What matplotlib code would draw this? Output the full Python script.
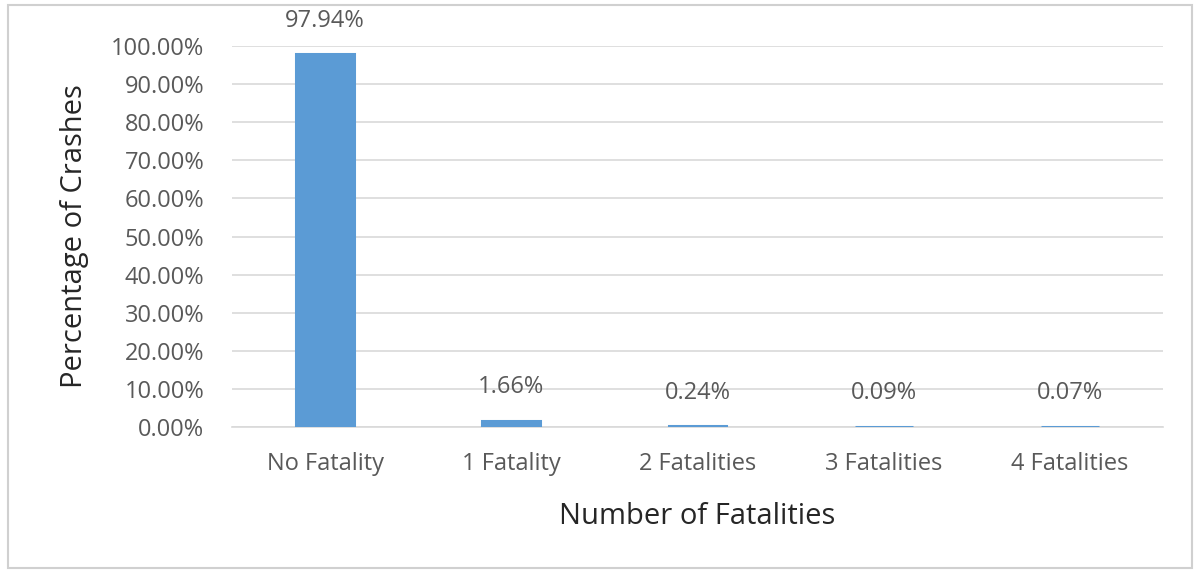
import matplotlib.pyplot as plt
from matplotlib.patches import Rectangle
from matplotlib.ticker import FuncFormatter

# data
categories = ["No Fatality", "1 Fatality", "2 Fatalities", "3 Fatalities", "4 Fatalities"]
percent = [97.94, 1.66, 0.24, 0.09, 0.07]
yticks = [0, 10, 20, 30, 40, 50, 60, 70, 80, 90, 100]

plt.rcParams['font.family'] = ['Open Sans', 'DejaVu Sans']
text_color = "#595959"
bar_color = "#5b9bd5"

fig = plt.figure(figsize=(11.99, 5.73), dpi=100)
ax = fig.add_axes([0.1935, 0.2548, 0.7765, 0.6649])

x = list(range(len(categories)))
bars = ax.bar(x, percent, width=0.31, color=bar_color,
              edgecolor=bar_color, linewidth=2.2, zorder=3)

# value labels
for bar, value in zip(bars, percent):
    ax.annotate(f"{value:.2f}%",
                (bar.get_x() + bar.get_width() / 2, value),
                xytext=(0, 24), textcoords="offset points",
                ha="center", va="center",
                fontsize=17, color=text_color, annotation_clip=False)

ax.set_xlim(-0.5, len(categories) - 0.5)
ax.set_ylim(0, 100)
ax.set_yticks(yticks)
ax.yaxis.set_major_formatter(FuncFormatter(lambda v, p: f"{v:.2f}%"))
ax.set_xticks(x)
ax.set_xticklabels(categories)

ax.grid(axis="y", color="#d9d9d9", linewidth=1.2, zorder=0)
for s in ["top", "right", "left"]:
    ax.spines[s].set_visible(False)
ax.spines["bottom"].set_color("#d9d9d9")
ax.spines["bottom"].set_linewidth(1.2)
ax.tick_params(length=0, labelsize=17, labelcolor=text_color)
ax.tick_params(axis="x", pad=18)
ax.tick_params(axis="y", pad=20)

ax.set_xlabel("Number of Fatalities", fontsize=21, color="#262626", labelpad=19)
ax.set_ylabel("Percentage of Crashes", fontsize=21, color="#262626", labelpad=16)

# outer frame
fig.patches.append(Rectangle((0.007, 0.009), 0.987, 0.982, transform=fig.transFigure,
                             fill=False, edgecolor="#d0d0d0", linewidth=1.5))

fig.savefig("out.png", dpi=100)
